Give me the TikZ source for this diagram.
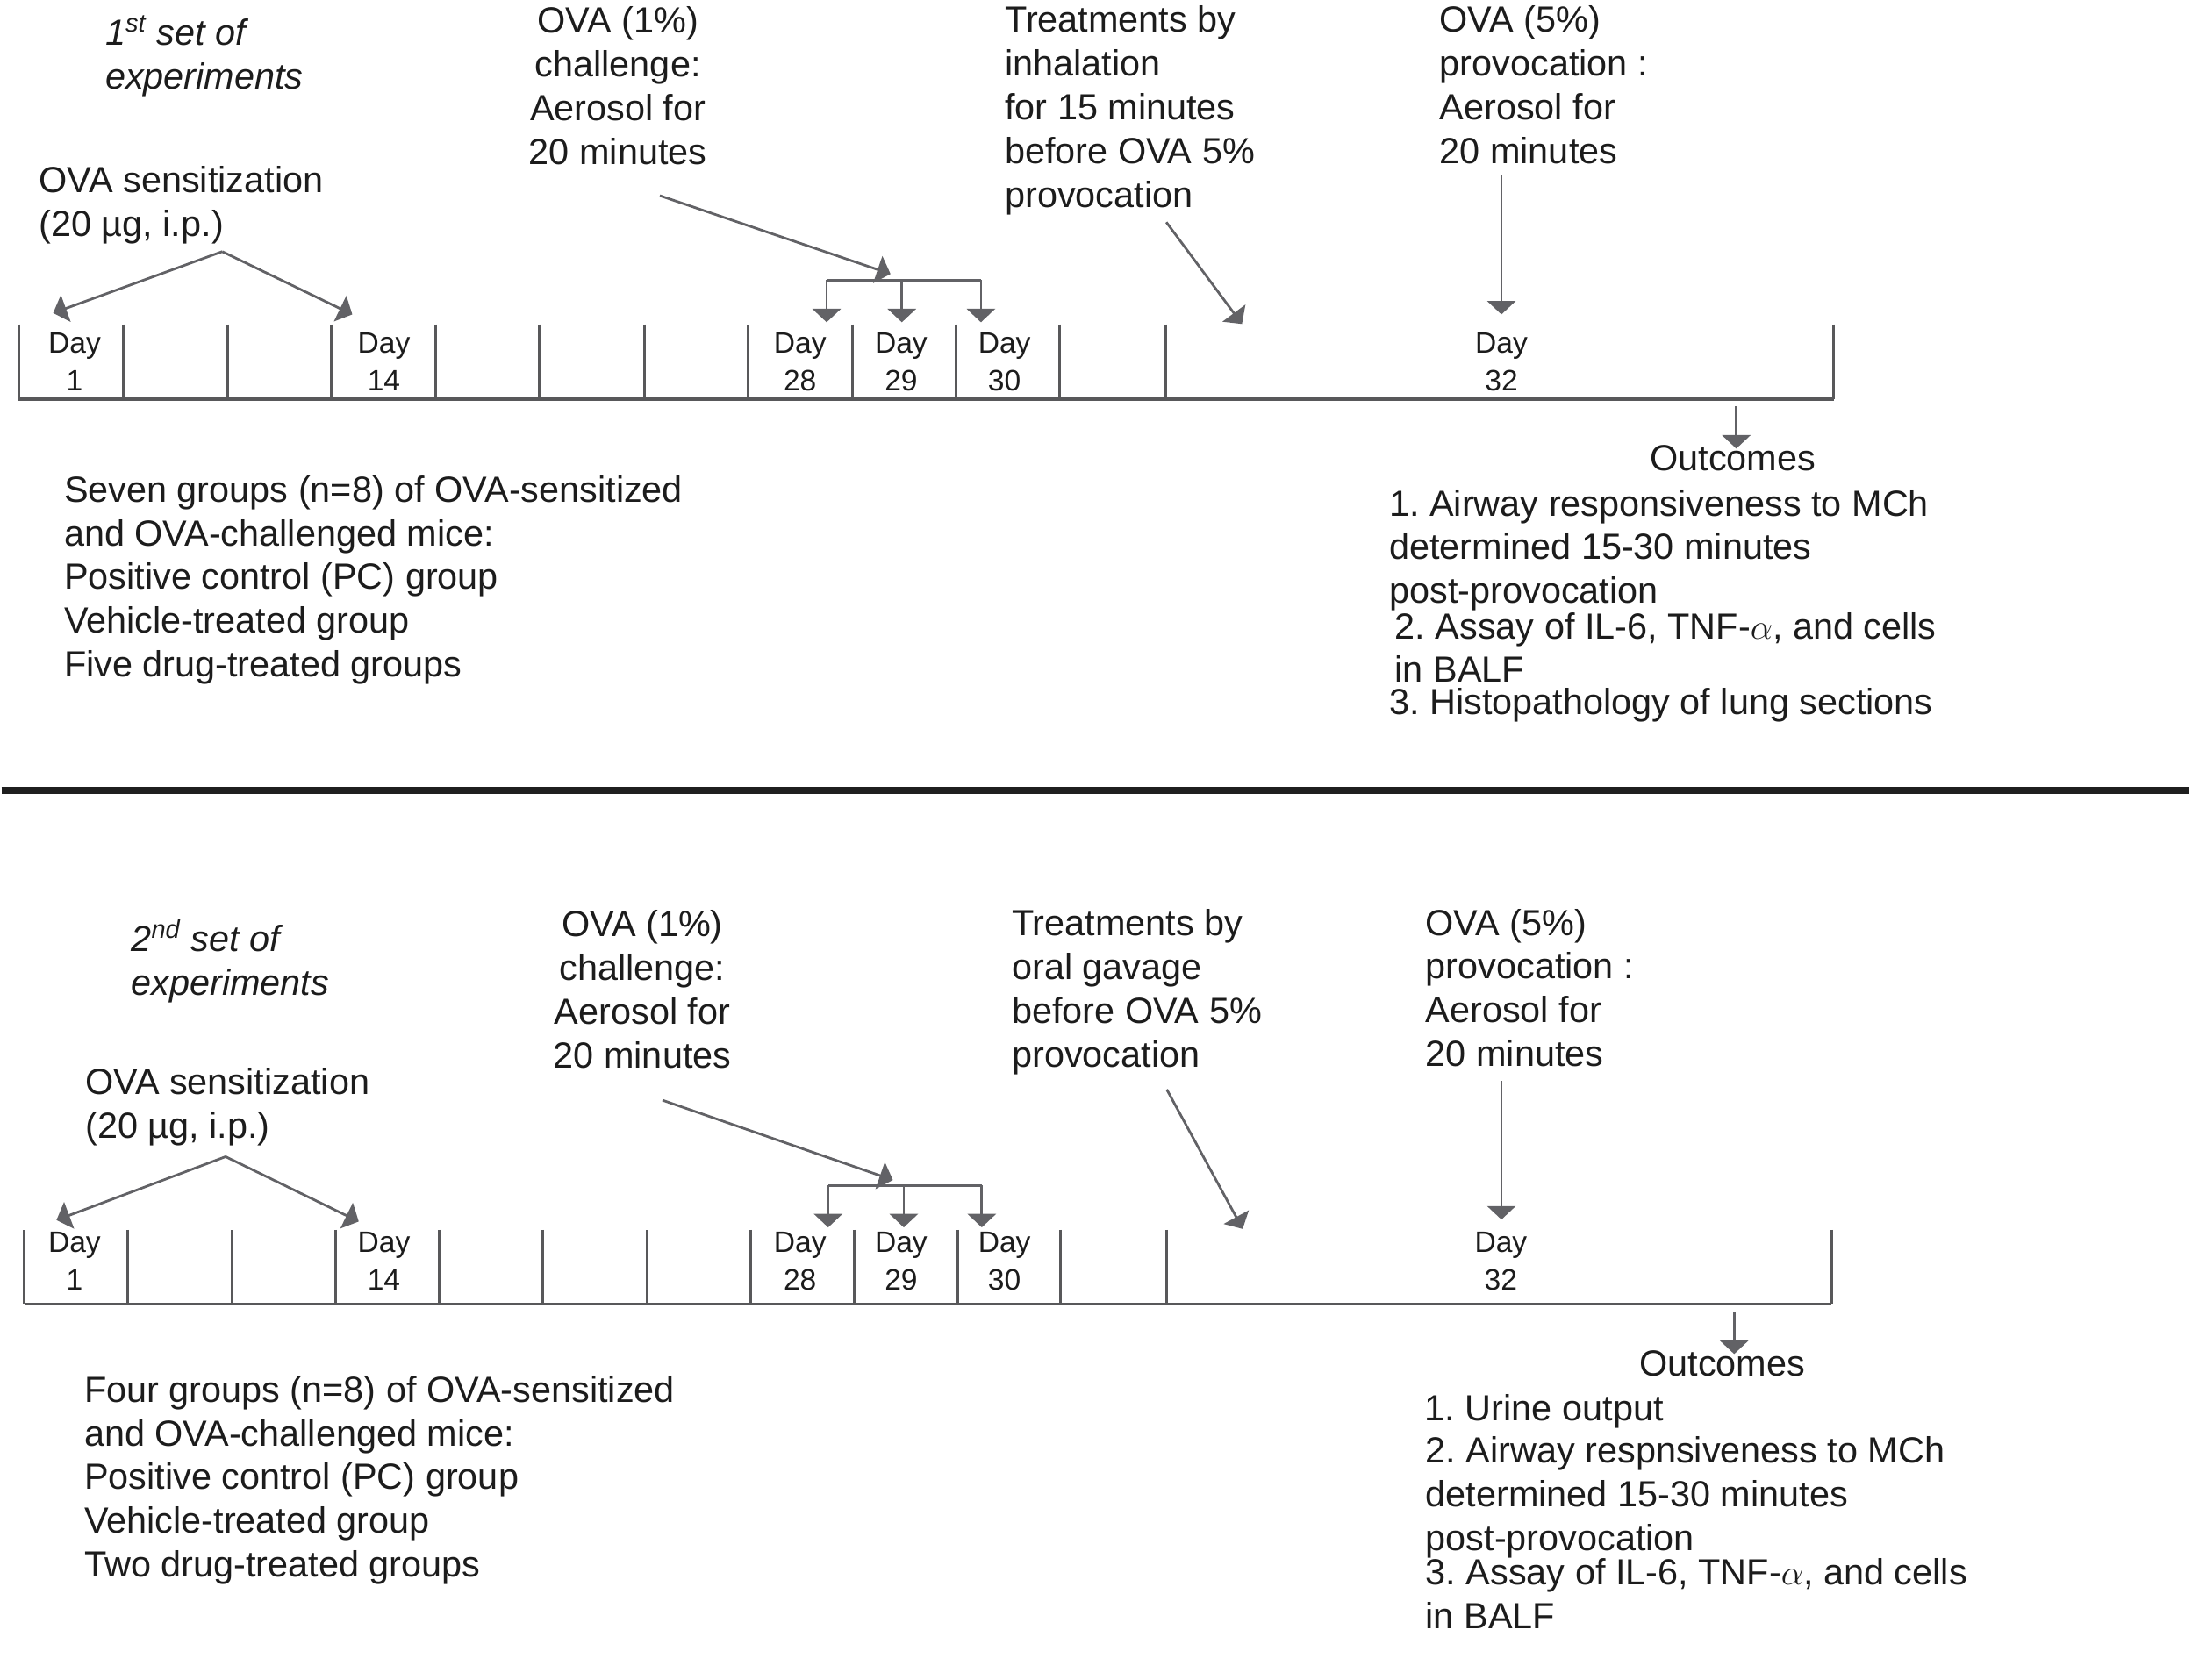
\documentclass[tikz,border=0pt]{standalone}
\usepackage{fontspec}
\setmainfont{Liberation Sans}
\usetikzlibrary{arrows.meta}

\definecolor{linegray}{RGB}{88,88,90}
\definecolor{arrowgray}{RGB}{98,98,102}
\definecolor{textblack}{RGB}{28,28,28}

\tikzset{
  txt/.style={inner sep=0pt, text=textblack, align=left, anchor=north west,
    font=\fontsize{14.8}{17.8}\selectfont\frenchspacing},
  ctxt/.style={txt, align=center, anchor=north},
  settxt/.style={txt, font=\fontsize{14.8}{17.8}\selectfont\itshape},
  daytxt/.style={inner sep=0pt, text=textblack, align=center, anchor=north,
    font=\fontsize{12}{15.5}\selectfont},
  tline/.style={draw=linegray, line width=1.1pt},
  brk/.style={draw=arrowgray, line width=1pt},
  arr/.style={brk, -{Triangle[width=11.5pt,length=5.5pt]}}
}

\begin{document}
\frenchspacing
\begin{tikzpicture}[x=0.02cm, y=-0.02cm]
  \useasboundingbox (0,0) rectangle (1568,1202);

  % ---------- first set ----------
  \node[settxt] (setA) at (75,11) {1\textsuperscript{st} set of\\experiments};
  \node[ctxt] (chalA) at (442,4.5) {OVA (1\%)\\challenge:\\Aerosol for\\20 minutes};
  \node[txt] (treatA) at (718.5,4) {Treatments by\\inhalation\\for 15 minutes\\before OVA 5\%\\provocation};
  \node[txt] (provA) at (1029.5,4) {OVA (5\%)\\provocation :\\Aerosol for\\20 minutes};
  \node[txt] (sensA) at (27.6,118.5) {OVA sensitization\\(20 µg, i.p.)};
  \node[txt] (groupsA) at (45.5,340) {Seven groups (n=8) of OVA-sensitized\\and OVA-challenged mice:\\Positive control (PC) group\\Vehicle-treated group\\Five drug-treated groups};
  \node[ctxt] (outA) at (1239.5,318) {Outcomes};
  \node[txt] (outA1) at (993.5,350) {1. Airway responsiveness to MCh\\determined 15-30 minutes\\post-provocation};
  \node[txt] (outA2) at (997.5,437.8) {2. Assay of IL-6, TNF-$\alpha$, and cells\\in BALF};
  \node[txt] (outA3) at (993.5,492.2) {3. Histopathology of lung sections};

  \node[daytxt] (d1A) at (53.4,237.5) {Day\\1};
  \node[daytxt] (d14A) at (274.6,237.5) {Day\\14};
  \node[daytxt] (d28A) at (572.3,237.5) {Day\\28};
  \node[daytxt] (d29A) at (644.6,237.5) {Day\\29};
  \node[daytxt] (d30A) at (718.5,237.5) {Day\\30};
  \node[daytxt] (d32A) at (1074,237.5) {Day\\32};

  % timeline
  \coordinate (tlA-start) at (13.3,285.6);
  \coordinate (tlA-end) at (1311.8,285.6);
  \draw[tline] (tlA-start) -- (tlA-end);
  \foreach \x in {13.3,88,163,237,311.4,386,461,535,609.6,683.8,757.8,833.7,1311.8}
    \draw[tline] (\x,232) -- (\x,285.6);

  % arrows
  \coordinate (sensA-split) at (159,180);
  \coordinate (d1A-in) at (38,224);
  \coordinate (d14A-in) at (252,225);
  \draw[arr] (sensA-split) -- (d1A-in);
  \draw[arr] (sensA-split) -- (d14A-in);

  \coordinate (chalA-from) at (472,140);
  \coordinate (chalA-to) at (637,196);
  \draw[arr] (chalA-from) -- (chalA-to);
  \coordinate (brA-l) at (591.3,200.5);
  \coordinate (brA-m) at (645.1,200.5);
  \coordinate (brA-r) at (701.7,200.5);
  \coordinate (d28A-in) at (591.3,230.6);
  \coordinate (d29A-in) at (645.1,230.6);
  \coordinate (d30A-in) at (701.7,230.6);
  \draw[brk] (brA-l) -- (brA-r);
  \draw[arr] (brA-l) -- (d28A-in);
  \draw[arr] (brA-m) -- (d29A-in);
  \draw[arr] (brA-r) -- (d30A-in);

  \coordinate (treatA-from) at (834.3,159);
  \coordinate (treatA-to) at (888.4,231.8);
  \draw[arr] (treatA-from) -- (treatA-to);
  \coordinate (provA-from) at (1074,125.6);
  \coordinate (d32A-in) at (1074,225);
  \draw[arr] (provA-from) -- (d32A-in);
  \coordinate (outA-from) at (1242,290.9);
  \coordinate (outA-to) at (1242,321);
  \draw[arr] (outA-from) -- (outA-to);

  % divider
  \coordinate (div-l) at (1,565.5);
  \coordinate (div-r) at (1566,565.5);
  \draw[line width=2.9pt, draw=black!88] (div-l) -- (div-r);

  % ---------- second set ----------
  \node[settxt] (setB) at (93.5,658) {2\textsuperscript{nd} set of\\experiments};
  \node[ctxt] (chalB) at (459.5,651) {OVA (1\%)\\challenge:\\Aerosol for\\20 minutes};
  \node[txt] (treatB) at (723.5,650.5) {Treatments by\\oral gavage\\before OVA 5\%\\provocation};
  \node[txt] (provB) at (1019.5,650) {OVA (5\%)\\provocation :\\Aerosol for\\20 minutes};
  \node[txt] (sensB) at (60.7,764) {OVA sensitization\\(20 µg, i.p.)};
  \node[txt] (groupsB) at (60,984) {Four groups (n=8) of OVA-sensitized\\and OVA-challenged mice:\\Positive control (PC) group\\Vehicle-treated group\\Two drug-treated groups};
  \node[ctxt] (outB) at (1232,966) {Outcomes};
  \node[txt] (outB1) at (1019,997.5) {1. Urine output};
  \node[txt] (outB2) at (1019.5,1027.8) {2. Airway respnsiveness to MCh\\determined 15-30 minutes\\post-provocation};
  \node[txt] (outB3) at (1019.5,1114.7) {3. Assay of IL-6, TNF-$\alpha$, and cells\\in BALF};

  \node[daytxt] (d1B) at (53.3,881) {Day\\1};
  \node[daytxt] (d14B) at (274.6,881) {Day\\14};
  \node[daytxt] (d28B) at (572.3,881) {Day\\28};
  \node[daytxt] (d29B) at (644.6,881) {Day\\29};
  \node[daytxt] (d30B) at (718.5,881) {Day\\30};
  \node[daytxt] (d32B) at (1073.6,881) {Day\\32};

  % timeline
  \coordinate (tlB-start) at (17.3,932.8);
  \coordinate (tlB-end) at (1310.2,932.8);
  \draw[tline] (tlB-start) -- (tlB-end);
  \foreach \x in {17.3,91.5,166,240,314,388.5,463,537,611,685,758.6,834.6,1310.2}
    \draw[tline] (\x,879.9) -- (\x,932.8);

  % arrows
  \coordinate (sensB-split) at (161.4,827.6);
  \coordinate (d1B-in) at (40.4,873);
  \coordinate (d14B-in) at (256.6,874);
  \draw[arr] (sensB-split) -- (d1B-in);
  \draw[arr] (sensB-split) -- (d14B-in);

  \coordinate (chalB-from) at (473.9,787.2);
  \coordinate (chalB-to) at (638.7,844.3);
  \draw[arr] (chalB-from) -- (chalB-to);
  \coordinate (brB-l) at (592.4,848.1);
  \coordinate (brB-m) at (646.5,848.1);
  \coordinate (brB-r) at (702.3,848.1);
  \coordinate (d28B-in) at (592.4,878.2);
  \coordinate (d29B-in) at (646.5,878.2);
  \coordinate (d30B-in) at (702.3,878.2);
  \draw[brk] (brB-l) -- (brB-r);
  \draw[arr] (brB-l) -- (d28B-in);
  \draw[arr] (brB-m) -- (d29B-in);
  \draw[arr] (brB-r) -- (d30B-in);

  \coordinate (treatB-from) at (834.6,779.5);
  \coordinate (treatB-to) at (888.9,879.3);
  \draw[arr] (treatB-from) -- (treatB-to);
  \coordinate (provB-from) at (1074,773.6);
  \coordinate (d32B-in) at (1074,872.6);
  \draw[arr] (provB-from) -- (d32B-in);
  \coordinate (outB-from) at (1240.5,938.5);
  \coordinate (outB-to) at (1240.5,968.8);
  \draw[arr] (outB-from) -- (outB-to);
\end{tikzpicture}
\end{document}
